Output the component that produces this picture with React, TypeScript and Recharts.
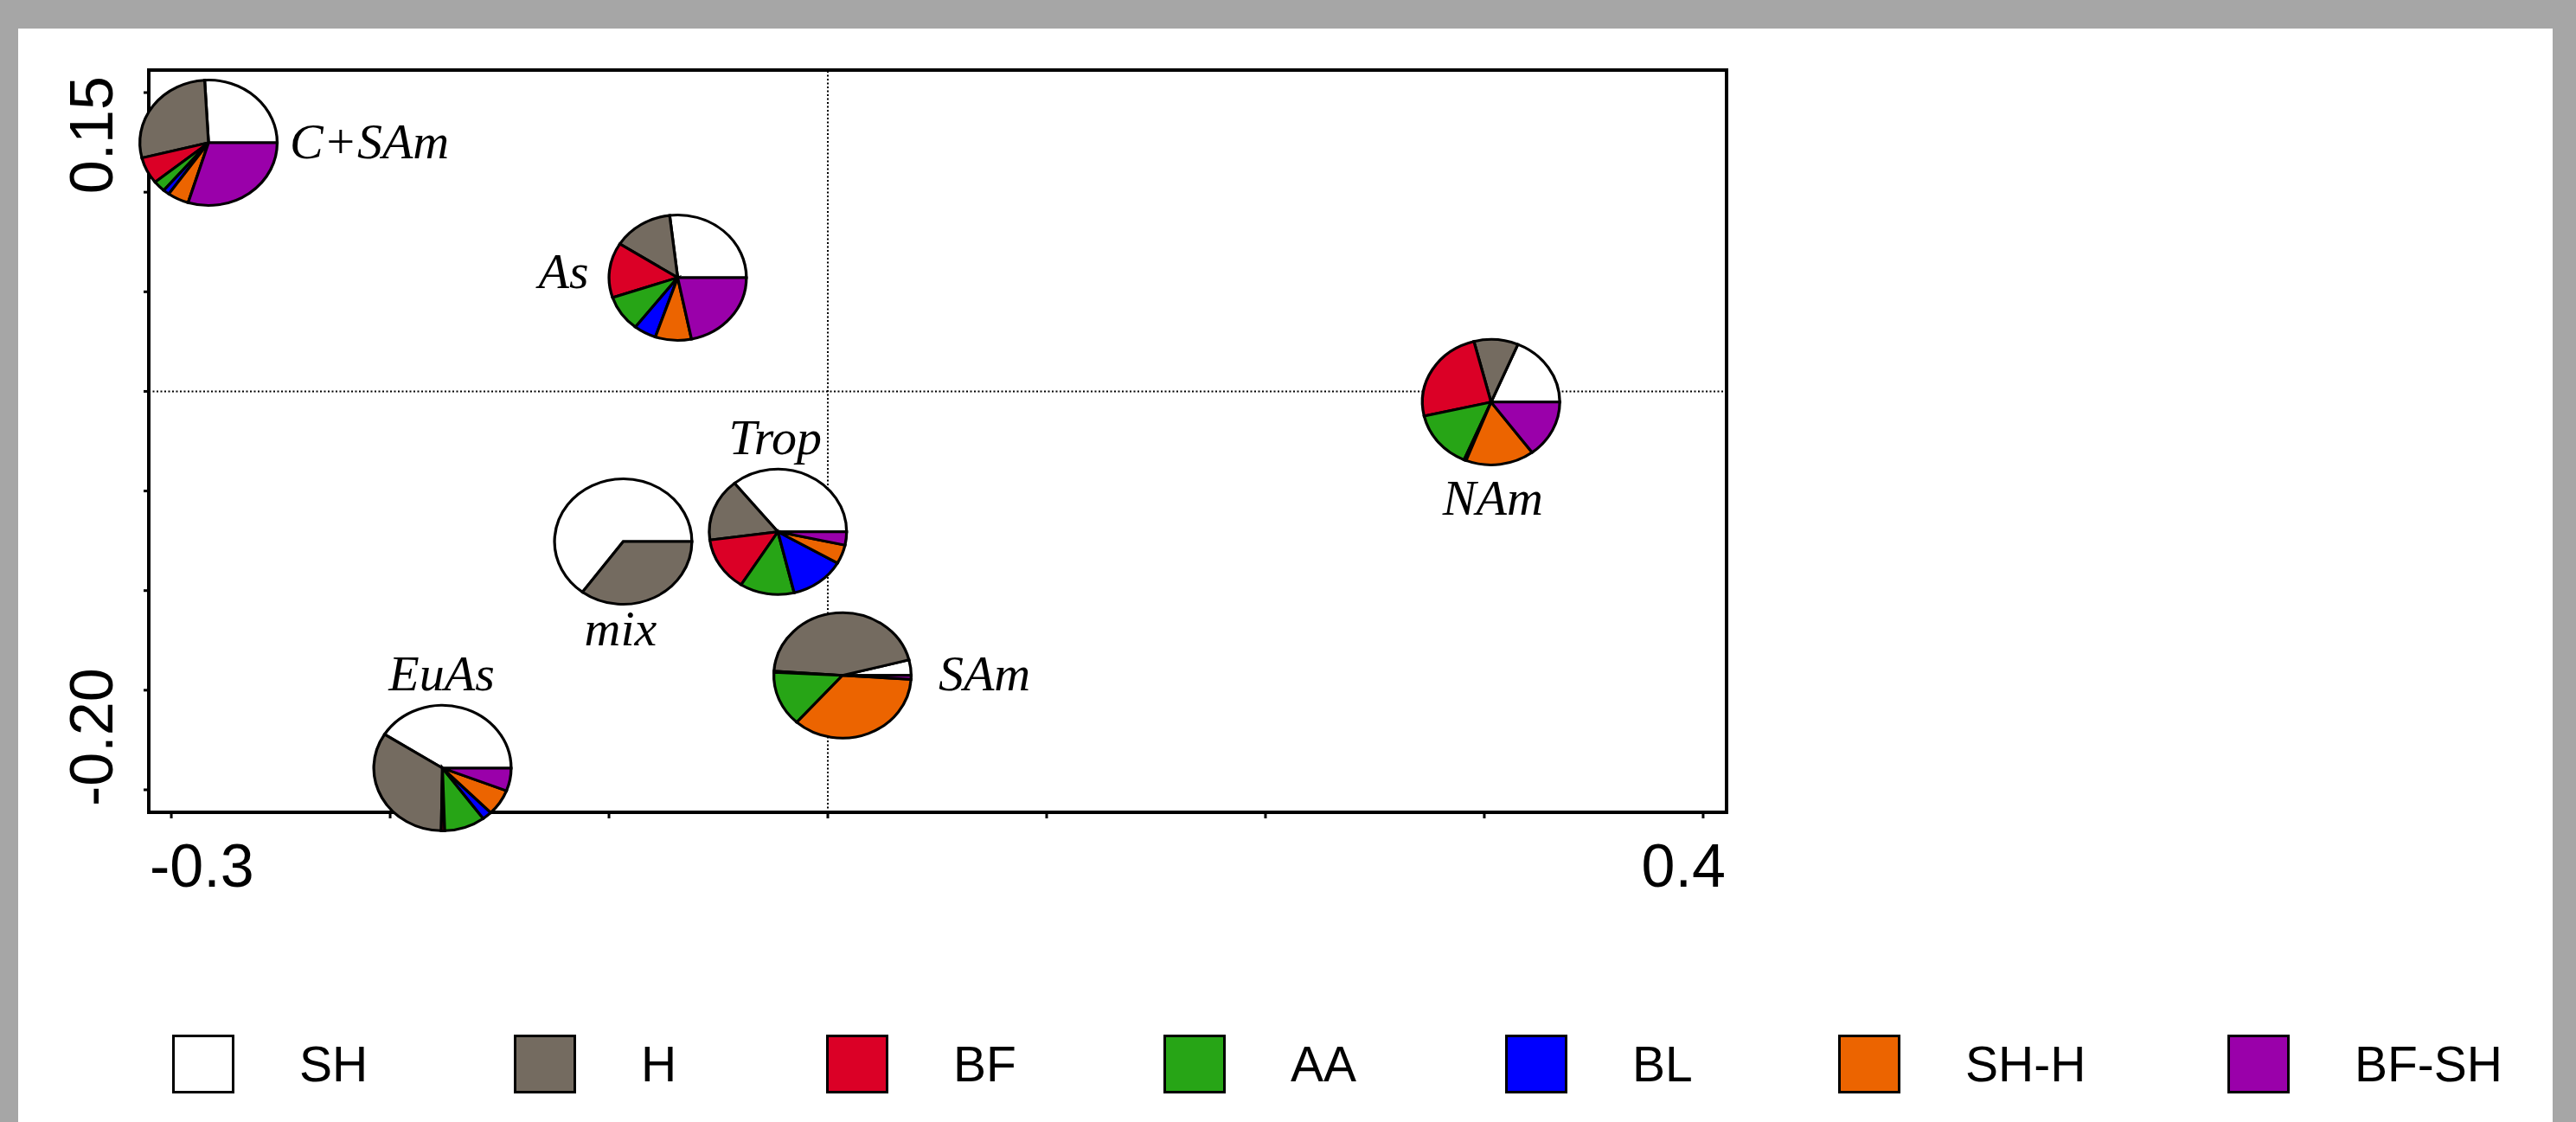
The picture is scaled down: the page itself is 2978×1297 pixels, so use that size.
import { Cell, Legend, Pie, PieChart, ReferenceArea, ReferenceLine, Scatter, ScatterChart, XAxis, YAxis } from 'recharts';

// vegetation / feeding categories, in pie order (counter-clockwise from 3 o'clock)
const CATEGORIES = ['SH', 'H', 'BF', 'AA', 'BL', 'SH-H', 'BF-SH'];
const COLORS = ['#ffffff', '#746b60', '#db0026', '#27a516', '#0000ff', '#ec6400', '#9a00aa'];

const REGIONS = ['C+SAm', 'As', 'Trop', 'mix', 'SAm', 'NAm', 'EuAs'];
const AXIS1 = [-0.283, -0.0686, -0.0228, -0.0935, 0.0067, 0.3031, -0.1761];
const AXIS2 = [0.1248, 0.0571, -0.0705, -0.0754, -0.1426, -0.0054, -0.1891];

// share (%) of each category per region, same order as REGIONS
const SH = [25.9, 26.9, 35.9, 64.9, 4.0, 18.6, 41.0];
const H = [28.0, 14.1, 16.2, 35.1, 44.9, 10.4, 33.8];
const BF = [6.9, 14.2, 13.9, 0, 0.3, 24.5, 0.8];
const AA = [2.9, 9.3, 12.8, 0, 14.2, 15.0, 9.6];
const BL = [1.5, 5.3, 12.9, 0, 0, 0.5, 2.3];
const SH_H = [5.0, 8.5, 4.9, 0, 35.6, 16.1, 6.7];
const BF_SH = [29.8, 21.8, 3.4, 0, 1.0, 14.8, 5.9];
const SERIES = [SH, H, BF, AA, BL, SH_H, BF_SH];

const X_TICKS = [-0.3, -0.2, -0.1, 0, 0.1, 0.2, 0.3, 0.4];
const Y_TICKS = [0.15, 0.1, 0.05, 0, -0.05, -0.1, -0.15, -0.2];
const X_LABELS = ['-0.3', '0.4'];
const Y_LABELS = ['0.15', '-0.20'];
const X_DOMAIN: [number, number] = [-0.3103, 0.4107];
const Y_DOMAIN: [number, number] = [-0.2113, 0.1613];

const points = REGIONS.map((name, i) => ({
  name,
  x: AXIS1[i],
  y: AXIS2[i],
  slices: CATEGORIES.map((c, j) => ({ name: c, value: SERIES[j][i] })),
}));

// label placement around each pie (offset of text baseline from pie centre)
const LABEL_POS: Record<string, { dx: number; dy: number; anchor: 'start' | 'middle' | 'end' }> = {
  'C+SAm': { dx: 94, dy: 18, anchor: 'start' },
  As: { dx: -103, dy: 12, anchor: 'end' },
  Trop: { dx: -3, dy: -90, anchor: 'middle' },
  mix: { dx: -3, dy: 120, anchor: 'middle' },
  SAm: { dx: 111, dy: 17, anchor: 'start' },
  NAm: { dx: 2, dy: 130, anchor: 'middle' },
  EuAs: { dx: -1, dy: -90, anchor: 'middle' },
};

const LEGEND_SLOT = [395, 361, 390, 395, 385, 450, 330];

const SANS = '"Liberation Sans", Arial, sans-serif';
const SERIF = '"Liberation Serif", "Times New Roman", serif';
const PIE_R = 72.5;
const PIE_SX = 1.095;
const BOX = 164;

function PieMarker(props: any) {
  const { cx, cy, payload } = props;
  const pos = LABEL_POS[payload.name];
  return (
    <g>
      <g transform={`translate(${cx} ${cy}) scale(${PIE_SX} 1)`}>
        <foreignObject x={-BOX / 2} y={-BOX / 2} width={BOX} height={BOX}>
          <PieChart width={BOX} height={BOX} margin={{ top: 0, right: 0, bottom: 0, left: 0 }}>
            <Pie
              data={payload.slices}
              dataKey="value"
              nameKey="name"
              cx="50%"
              cy="50%"
              innerRadius={0}
              outerRadius={PIE_R}
              startAngle={0}
              endAngle={360}
              stroke="#000"
              strokeWidth={3}
              isAnimationActive={false}
            >
              {payload.slices.map((s: any, i: number) => (
                <Cell key={s.name} fill={COLORS[i]} />
              ))}
            </Pie>
          </PieChart>
        </foreignObject>
      </g>
      <text
        x={cx + pos.dx}
        y={cy + pos.dy}
        textAnchor={pos.anchor}
        fontFamily={SERIF}
        fontStyle="italic"
        fontSize={58}
        fill="#000"
      >
        {payload.name}
      </text>
    </g>
  );
}

function XTick(props: any) {
  const { x, y, index } = props;
  const last = X_TICKS.length - 1;
  if (index !== 0 && index !== last) return <g />;
  const first = index === 0;
  return (
    <text
      x={first ? x - 25 : x + 26}
      y={y + 77}
      textAnchor={first ? 'start' : 'end'}
      fontFamily={SANS}
      fontSize={70}
      fill="#000"
    >
      {first ? X_LABELS[0] : X_LABELS[1]}
    </text>
  );
}

function YTick(props: any) {
  const { x, y, index } = props;
  const last = Y_TICKS.length - 1;
  if (index !== 0 && index !== last) return <g />;
  const first = index === 0;
  const tx = x - 34;
  const ty = first ? y - 19 : y + 19;
  return (
    <text
      x={tx}
      y={ty}
      transform={`rotate(-90, ${tx}, ${ty})`}
      textAnchor={first ? 'end' : 'start'}
      fontFamily={SANS}
      fontSize={70}
      fill="#000"
    >
      {first ? Y_LABELS[0] : Y_LABELS[1]}
    </text>
  );
}

function LegendRow() {
  return (
    <div style={{ display: 'flex', alignItems: 'center', fontFamily: SANS, fontSize: 57, color: '#000' }}>
      {CATEGORIES.map((c, i) => (
        <div key={c} style={{ display: 'flex', alignItems: 'center', width: LEGEND_SLOT[i], flex: 'none' }}>
          <span
            style={{
              display: 'inline-block',
              width: 66,
              height: 62,
              border: '3px solid #000',
              background: COLORS[i],
              marginRight: 75,
              flex: 'none',
            }}
          />
          <span>{c}</span>
        </div>
      ))}
    </div>
  );
}

export default function App() {
  return (
    <div style={{ position: 'absolute', left: 0, top: 0, width: 2978, height: 1297, background: '#a6a6a6' }}>
      <div style={{ position: 'absolute', left: 21, top: 33, width: 2930, height: 1264, background: '#fff' }} />
      <div style={{ position: 'absolute', left: 0, top: 0 }}>
        <ScatterChart width={2978} height={1297} margin={{ top: 81, right: 982, bottom: 258, left: 72 }}>
          <XAxis
            type="number"
            dataKey="x"
            domain={X_DOMAIN}
            ticks={X_TICKS}
            interval={0}
            axisLine={false}
            tickSize={7}
            tickLine={{ stroke: '#000', strokeWidth: 3 }}
            tick={<XTick />}
            height={100}
          />
          <YAxis
            type="number"
            dataKey="y"
            domain={Y_DOMAIN}
            ticks={Y_TICKS}
            interval={0}
            axisLine={false}
            tickSize={6}
            tickLine={{ stroke: '#000', strokeWidth: 3 }}
            tick={<YTick />}
            width={100}
          />
          <ReferenceArea
            x1={X_DOMAIN[0]}
            x2={X_DOMAIN[1]}
            y1={Y_DOMAIN[0]}
            y2={Y_DOMAIN[1]}
            fill="none"
            stroke="#000"
            strokeWidth={4}
            ifOverflow="visible"
          />
          <ReferenceLine x={0} stroke="#000" strokeWidth={2} strokeDasharray="2 2.5" />
          <ReferenceLine y={0} stroke="#000" strokeWidth={2} strokeDasharray="2 2.5" />
          <Scatter data={points} shape={(p: any) => <PieMarker {...p} />} isAnimationActive={false} />
          <Legend
            verticalAlign="middle"
            layout="horizontal"
            content={() => <LegendRow />}
            wrapperStyle={{ left: 199, top: 1196, width: 2760, height: 72 }}
          />
        </ScatterChart>
      </div>
    </div>
  );
}
